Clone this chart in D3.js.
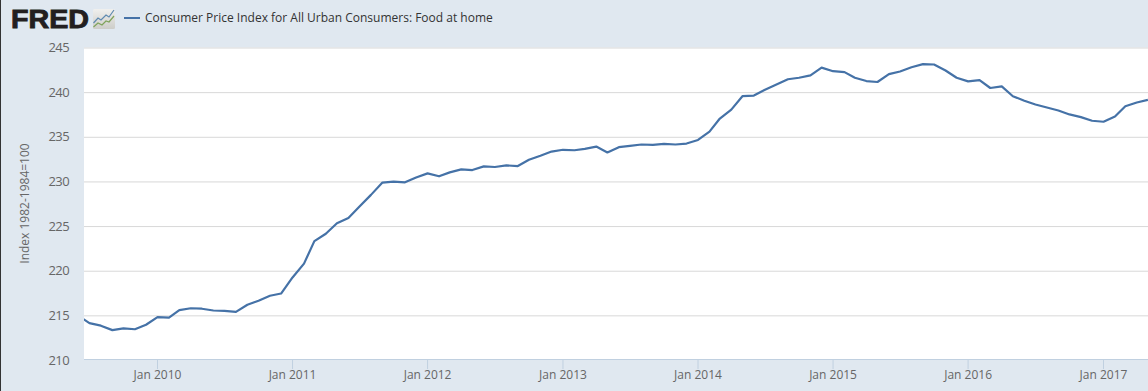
<!DOCTYPE html>
<html>
<head>
<meta charset="utf-8">
<script src="https://cdnjs.cloudflare.com/ajax/libs/d3/7.8.5/d3.min.js"></script>
<style>
html, body { margin: 0; padding: 0; background: #e0e8f0; overflow: hidden; }
text { font-family: "Open Sans", sans-serif; }
</style>
</head>
<body>
<svg id="chart" width="1148" height="391"></svg>
<script>
// monthly values, Jun 2009 to May 2017
var startMonth = "2009-06-01";
var values = [
  215.0, 214.19, 213.9, 213.4, 213.6, 213.5, 214.0,
  214.85, 214.8, 215.65, 215.85, 215.8, 215.6, 215.55, 215.45, 216.25, 216.7, 217.25, 217.5,
  219.3, 220.85, 223.37, 224.2, 225.37, 225.96, 227.26, 228.55, 229.93, 230.04, 229.96, 230.5,
  230.96, 230.63, 231.07, 231.4, 231.33, 231.74, 231.67, 231.85, 231.78, 232.48, 232.93, 233.4,
  233.6, 233.55, 233.7, 233.96, 233.3, 233.89, 234.04, 234.19, 234.15, 234.26, 234.19, 234.3,
  234.7, 235.63, 237.1, 238.1, 239.6, 239.67, 240.33, 240.9, 241.5, 241.67, 241.93, 242.8,
  242.4, 242.3, 241.67, 241.3, 241.19, 242.07, 242.37, 242.85, 243.19, 243.15, 242.48, 241.67,
  241.26, 241.4, 240.52, 240.7, 239.6, 239.1, 238.67, 238.33, 238.0, 237.56, 237.26, 236.85,
  236.74, 237.33, 238.48, 238.9, 239.2
];
var yTicks = [210, 215, 220, 225, 230, 235, 240, 245];
var xTickYears = [2010, 2011, 2012, 2013, 2014, 2015, 2016, 2017];
var seriesName = "Consumer Price Index for All Urban Consumers: Food at home";
var yTitle = "Index 1982-1984=100";

var plotLeft = 84, plotRight = 1148, plotTop = 47.5, plotBottom = 360;

var svg = d3.select("#chart");

var first = new Date(startMonth + "T00:00:00Z");
var dates = values.map(function(v, i){ return d3.utcMonth.offset(first, i); });

//--- Jan 2010 and Jan 2017 tick positions anchor the scale, the left end is cropped
var xRef = d3.scaleUtc()
  .domain([Date.UTC(2010, 0, 1), Date.UTC(2017, 0, 1)])
  .range([157, 1103]);
var x = d3.scaleUtc()
  .domain([xRef.invert(plotLeft), xRef.invert(plotRight)])
  .range([plotLeft, plotRight]);
var y = d3.scaleLinear().domain([210, 245]).range([plotBottom, plotTop]);

svg.append("rect").attr("width", 1148).attr("height", 391).attr("fill", "#e0e8f0");
svg.append("rect").attr("width", 1).attr("height", 391).attr("fill", "#333333");

svg.append("rect")
  .attr("x", plotLeft).attr("y", plotTop)
  .attr("width", plotRight - plotLeft).attr("height", plotBottom - plotTop)
  .attr("fill", "#ffffff");

svg.append("clipPath").attr("id", "plot-clip").append("rect")
  .attr("x", plotLeft).attr("y", plotTop - 2)
  .attr("width", plotRight - plotLeft).attr("height", plotBottom - plotTop + 4);

//--- y axis with full width grid
var yAxis = d3.axisLeft(y).tickValues(yTicks).tickSize(0).tickPadding(15);
var yG = svg.append("g").attr("transform", "translate(" + plotLeft + ",0)").call(yAxis);
yG.select(".domain").remove();
yG.selectAll("line")
  .attr("x2", plotRight - plotLeft)
  .attr("stroke", function(d){ return d == 210 ? "none" : "#d8d8d8"; });
yG.selectAll("text")
  .attr("font-size", 13).attr("fill", "#666666")
  .attr("letter-spacing", "-0.6px")
  .style("font-family", '"Open Sans", sans-serif');

//--- x axis
var xAxis = d3.axisBottom(x)
  .tickValues(xTickYears.map(function(yr){ return new Date(Date.UTC(yr, 0, 1)); }))
  .tickFormat(d3.utcFormat("Jan %Y"))
  .tickSize(10).tickPadding(1);
var xG = svg.append("g").attr("transform", "translate(0," + (plotBottom - 1) + ")").call(xAxis);
xG.select(".domain").attr("stroke", "#c0d0e0").attr("d", "M" + plotLeft + ",0.5H" + plotRight);
xG.selectAll("line").attr("stroke", "#c0d0e0");
xG.selectAll("text")
  .attr("font-size", 12).attr("fill", "#666666")
  .style("font-family", '"Open Sans", sans-serif');

//--- series, same half pixel offset as the axis ticks
var line = d3.line()
  .x(function(d, i){ return x(dates[i]) + 0.5; })
  .y(function(d){ return y(d) + 0.5; });
svg.append("path")
  .datum(values)
  .attr("clip-path", "url(#plot-clip)")
  .attr("d", line)
  .attr("fill", "none")
  .attr("stroke", "#4572a7")
  .attr("stroke-width", 2.2)
  .attr("stroke-linejoin", "round");

//--- y title
svg.append("text")
  .attr("transform", "translate(29,203.5) rotate(-90)")
  .attr("text-anchor", "middle")
  .attr("font-size", 12).attr("fill", "#666666")
  .text(yTitle);

//--- legend
svg.append("line")
  .attr("x1", 124).attr("x2", 140).attr("y1", 18).attr("y2", 18)
  .attr("stroke", "#4572a7").attr("stroke-width", 2);
svg.append("text")
  .attr("x", 145).attr("y", 22)
  .attr("font-size", 12).attr("fill", "#333333")
  .text(seriesName);

//--- logo
svg.append("text")
  .attr("x", 11).attr("y", 28)
  .attr("font-size", 26.5).attr("font-weight", 700)
  .attr("textLength", 78).attr("lengthAdjust", "spacingAndGlyphs")
  .attr("fill", "#231f20").attr("stroke", "#231f20").attr("stroke-width", 0.9)
  .style("font-family", '"Liberation Sans", sans-serif')
  .text("FRED");
var grad = svg.append("linearGradient").attr("id", "logo-bg")
  .attr("x1", 0).attr("y1", 0).attr("x2", 0).attr("y2", 1);
grad.append("stop").attr("offset", 0).attr("stop-color", "#f0f0ee");
grad.append("stop").attr("offset", 1).attr("stop-color", "#cdcdc9");
var logo = svg.append("g").attr("transform", "translate(93,9)");
logo.append("rect").attr("width", 22).attr("height", 20).attr("rx", 1.5).attr("fill", "url(#logo-bg)");
logo.append("path").attr("d", "M0.5,14L5,9L8,11L13,6L16,8L21,1").attr("fill", "none").attr("stroke", "#5f8ab0").attr("stroke-width", 1.2);
logo.append("path").attr("d", "M0.5,18L5,14L9,16L13,12L16,13L21,7").attr("fill", "none").attr("stroke", "#7fa35c").attr("stroke-width", 1.2);
</script>
</body>
</html>
